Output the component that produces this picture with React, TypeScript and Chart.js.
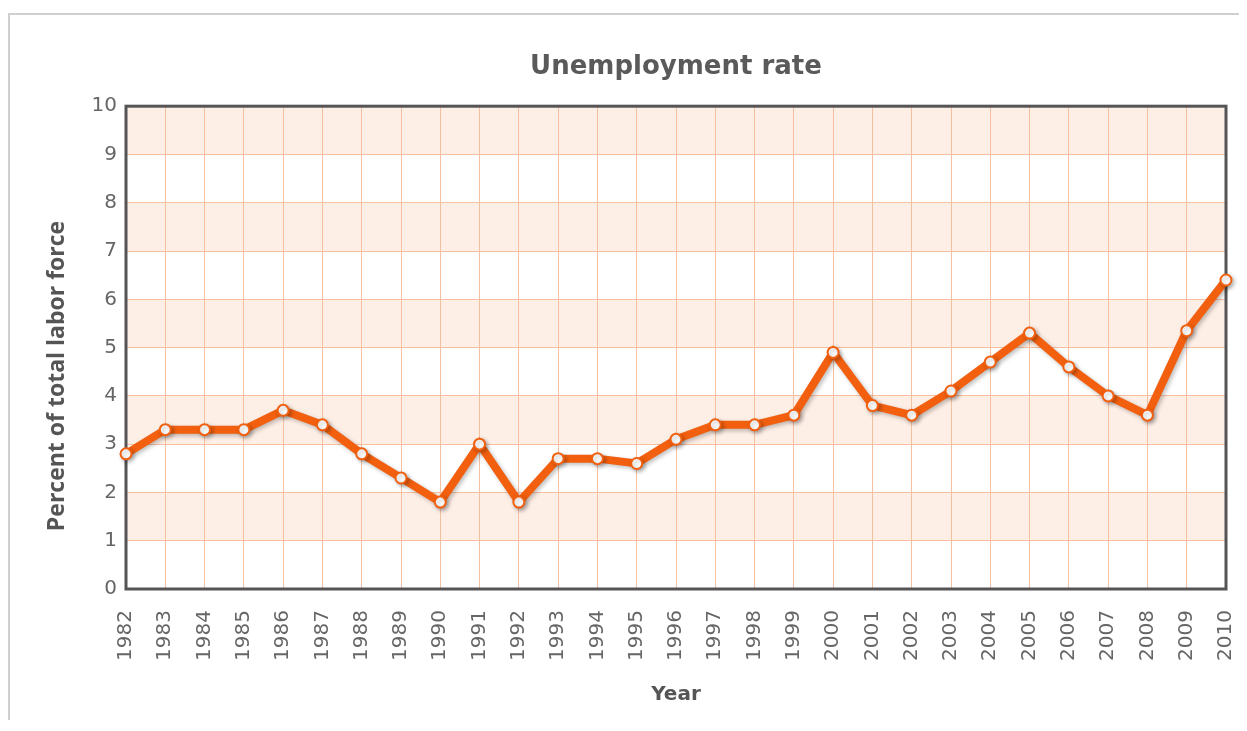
import React, { useEffect, useRef } from "react";
import { Chart, registerables } from "chart.js";

Chart.register(...registerables);

const years: string[] = [
  "1982", "1983", "1984", "1985", "1986", "1987", "1988", "1989", "1990", "1991",
  "1992", "1993", "1994", "1995", "1996", "1997", "1998", "1999", "2000", "2001",
  "2002", "2003", "2004", "2005", "2006", "2007", "2008", "2009", "2010",
];

const unemploymentRate: number[] = [
  2.8, 3.3, 3.3, 3.3, 3.7, 3.4, 2.8, 2.3, 1.8, 3.0,
  1.8, 2.7, 2.7, 2.6, 3.1, 3.4, 3.4, 3.6, 4.9, 3.8,
  3.6, 4.1, 4.7, 5.3, 4.6, 4.0, 3.6, 5.35, 6.4,
];

const yTicks: number[] = [0, 1, 2, 3, 4, 5, 6, 7, 8, 9, 10];
const bandStarts: number[] = [1, 3, 5, 7, 9];

const chartTitle = "Unemployment rate";
const xTitle = "Year";
const yTitle = "Percent of total labor force";

const ORANGE = "#f2600f";
const GRID = "#f6c0a0";
const BAND = "#fdeee6";

const decorPlugin = {
  id: "decor",
  beforeDraw(chart: any) {
    const { ctx, chartArea, scales } = chart;
    const y = scales.y;
    ctx.save();
    ctx.fillStyle = BAND;
    bandStarts.forEach((b) => {
      const top = y.getPixelForValue(b + 1);
      const bottom = y.getPixelForValue(b);
      ctx.fillRect(chartArea.left, top, chartArea.right - chartArea.left, bottom - top);
    });
    ctx.restore();
  },
  beforeDatasetsDraw(chart: any) {
    const { ctx, chartArea } = chart;
    ctx.save();
    ctx.strokeStyle = "#555555";
    ctx.lineWidth = 3;
    ctx.strokeRect(chartArea.left, chartArea.top, chartArea.right - chartArea.left, chartArea.bottom - chartArea.top);
    ctx.restore();
  },
  beforeDatasetDraw(chart: any) {
    const { ctx } = chart;
    ctx.save();
    ctx.shadowColor = "rgba(0,0,0,0.25)";
    ctx.shadowBlur = 4;
    ctx.shadowOffsetX = 2;
    ctx.shadowOffsetY = 2;
  },
  afterDatasetDraw(chart: any) {
    chart.ctx.restore();
  },
  afterDraw(chart: any) {
    const { ctx } = chart;
    ctx.save();
    ctx.translate(47, 361);
    ctx.rotate(-Math.PI / 2);
    ctx.font = "bold 23px 'Open Sans'";
    ctx.fillStyle = "#555555";
    ctx.textAlign = "center";
    ctx.textBaseline = "middle";
    ctx.fillText(yTitle, 0, 0);
    ctx.restore();
  },
};

export default function App() {
  const canvasRef = useRef<HTMLCanvasElement | null>(null);

  useEffect(() => {
    if (!canvasRef.current) return;
    const chart = new Chart(canvasRef.current, {
      type: "line",
      data: {
        labels: years,
        datasets: [
          {
            label: "Unemployment rate",
            data: unemploymentRate,
            borderColor: ORANGE,
            borderWidth: 8,
            backgroundColor: "#ffffff",
            pointBackgroundColor: "#ffffff",
            pointBorderColor: ORANGE,
            pointBorderWidth: 2,
            pointRadius: 5.5,
            tension: 0,
            clip: false as any,
          },
        ],
      },
      options: {
        animation: false,
        responsive: false,
        maintainAspectRatio: false,
        layout: { padding: { left: 0, right: 13, top: 0, bottom: 0 } },
        plugins: {
          legend: { display: false },
          tooltip: { enabled: false },
          title: {
            display: true,
            text: chartTitle,
            fullSize: false,
            color: "#5a5a5a",
            font: { family: "'DejaVu Sans'", size: 26, weight: "bold" },
            padding: { top: 37, bottom: 23 },
          },
        },
        scales: {
          x: {
            type: "category",
            offset: false,
            grid: { color: GRID, lineWidth: 1, drawTicks: false },
            border: { display: false },
            ticks: {
              color: "#666666",
              font: { family: "'DejaVu Sans'", size: 20 },
              minRotation: 90,
              maxRotation: 90,
              padding: 21,
              autoSkip: false,
            },
            title: {
              display: true,
              text: xTitle,
              color: "#555555",
              font: { family: "'DejaVu Sans'", size: 20, weight: "bold" },
              padding: { top: 0, bottom: 13 },
            },
            afterFit(scale: any) {
              scale.height = 131;
              scale.paddingLeft = 0;
              scale.paddingRight = 0;
            },
          },
          y: {
            min: 0,
            max: 10,
            grid: { color: GRID, lineWidth: 1, drawTicks: false },
            border: { display: false },
            afterBuildTicks(scale: any) {
              scale.ticks = yTicks.map((v) => ({ value: v }));
            },
            ticks: {
              color: "#666666",
              font: { family: "'DejaVu Sans'", size: 20 },
              padding: 9,
            },
            afterFit(scale: any) {
              scale.width = 116;
            },
          },
        },
      },
      plugins: [decorPlugin],
    });
    return () => chart.destroy();
  }, []);

  return (
    <div style={{ paddingTop: 5 }}>
      <div
        style={{
          borderTop: "2px solid #cfcfcf",
          borderLeft: "2px solid #cfcfcf",
          height: 705,
          width: 1229,
        }}
      >
        <canvas ref={canvasRef} width={1229} height={705} style={{ display: "block" }} />
      </div>
    </div>
  );
}
